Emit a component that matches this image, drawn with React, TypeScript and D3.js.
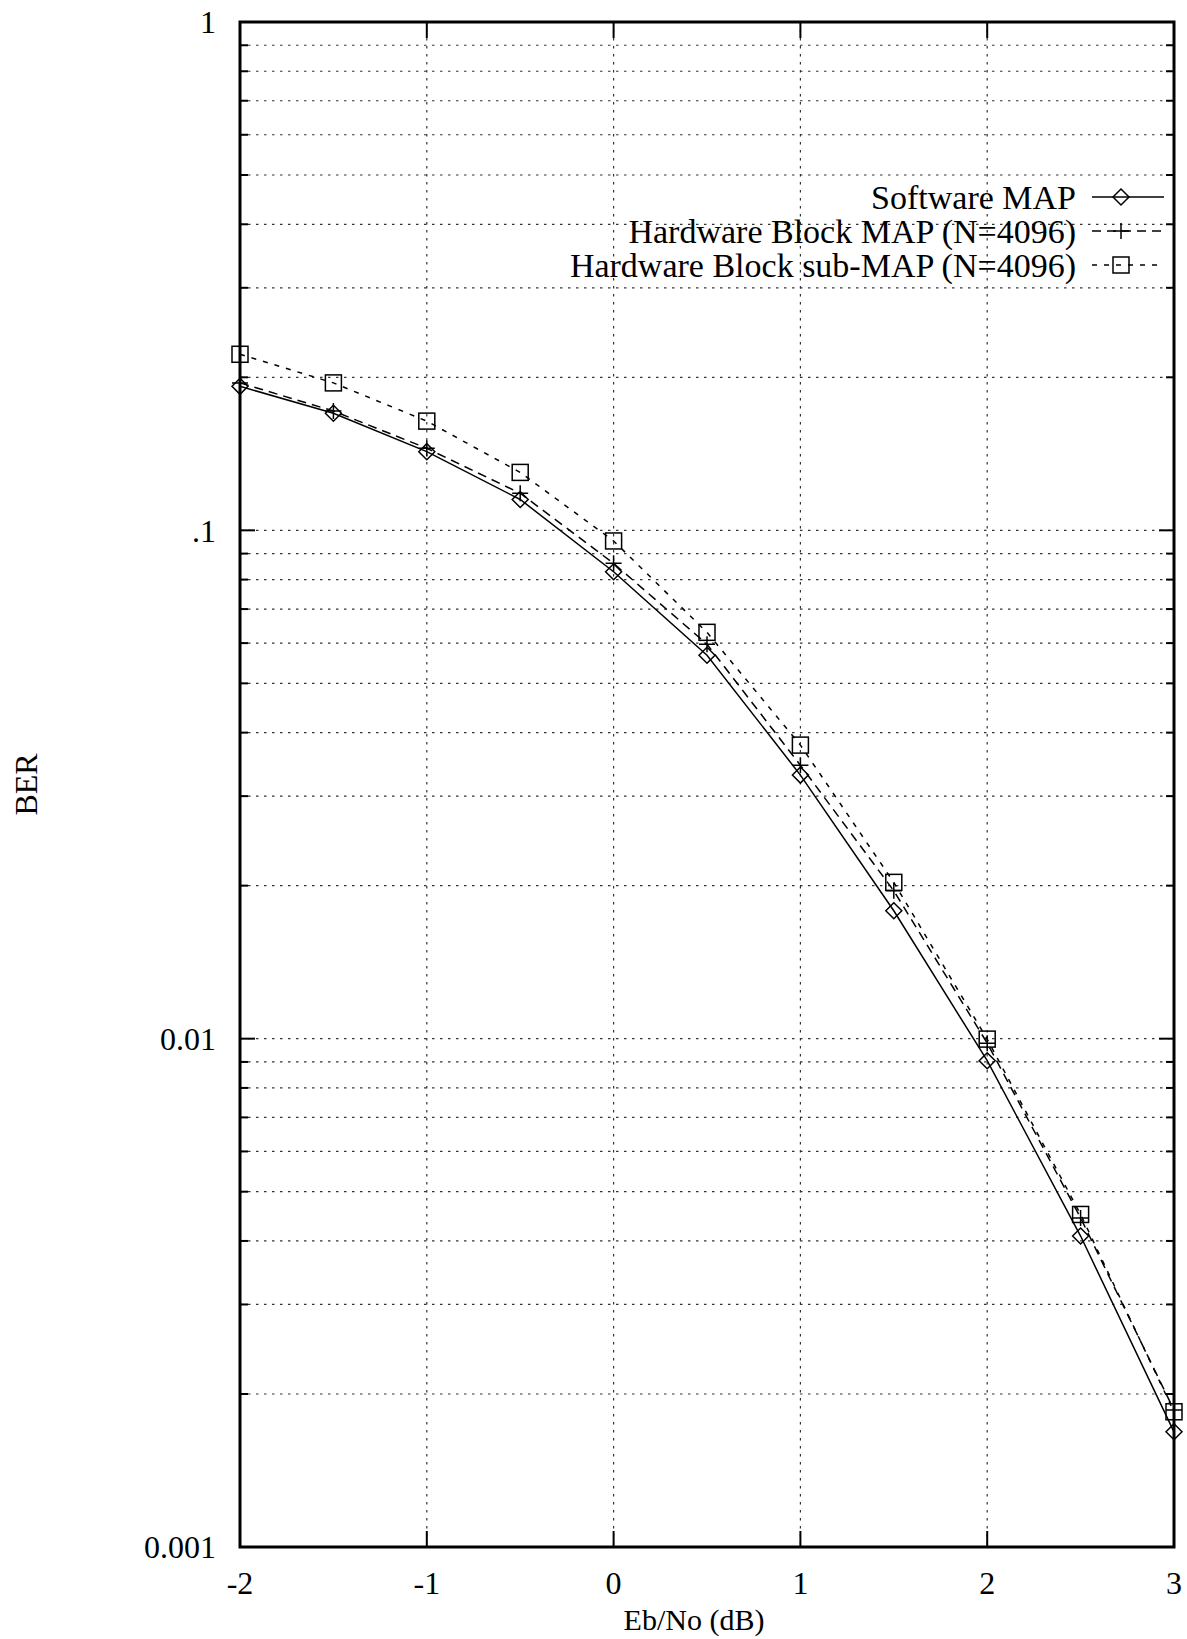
import React, { useEffect, useRef } from "react"
import * as d3 from "d3"

const ebno = [-2, -1.5, -1, -0.5, 0, 0.5, 1, 1.5, 2, 2.5, 3]
const softwareMap = [0.192, 0.17, 0.1428, 0.115, 0.0829, 0.0568, 0.033, 0.01785, 0.00905, 0.00409, 0.001685]
const hwBlockMap = [0.195, 0.1717, 0.145, 0.1183, 0.0861, 0.0597, 0.0345, 0.01954, 0.0098, 0.00444, 0.00186]
const hwBlockSubMap = [0.222, 0.195, 0.164, 0.13, 0.0953, 0.063, 0.0378, 0.0203, 0.00998, 0.00451, 0.001845]

const seriesNames = ["Software MAP", "Hardware Block MAP (N=4096)", "Hardware Block sub-MAP (N=4096)"]
const xTicks = [-2, -1, 0, 1, 2, 3]
const xTickLabels = ["-2", "-1", "0", "1", "2", "3"]
const yTicks = [1, 0.1, 0.01, 0.001]
const yTickLabels = ["1", ".1", "0.01", "0.001"]

const W = 1187
const H = 1639
const FONT = "'Liberation Serif', 'DejaVu Serif', serif"

const App = () => {
	const svgRef = useRef<SVGSVGElement>(null)

	useEffect(() => {
		const margin = { top: 22, right: 13, bottom: 92, left: 240 }
		const svg = d3.select(svgRef.current)
		svg.selectAll("*").remove()

		const x = d3.scaleLinear().domain([-2, 3]).range([margin.left, W - margin.right])
		const y = d3.scaleLog().domain([0.001, 1]).range([H - margin.bottom, margin.top])
		const [x0, x1] = x.range()
		const [yb, yt] = y.range()

		// minor log positions
		const minors: number[] = []
		for (let e = -3; e < 0; e++) {
			for (let m = 1; m < 10; m++) minors.push(m * Math.pow(10, e))
		}
		minors.push(1)

		const grid = svg.append("g")
		grid.selectAll("line.hg")
			.data(minors.filter((v) => v > 0.001 && v < 1))
			.join("line")
			.attr("x1", x0).attr("x2", x1)
			.attr("y1", (d) => y(d)).attr("y2", (d) => y(d))
			.attr("stroke", "#333").attr("stroke-width", 1.2)
			.attr("stroke-dasharray", "2.5,5.5")
		grid.selectAll("line.vg")
			.data(xTicks.filter((v) => v > -2 && v < 3))
			.join("line")
			.attr("x1", (d) => x(d)).attr("x2", (d) => x(d))
			.attr("y1", yt).attr("y2", yb)
			.attr("stroke", "#333").attr("stroke-width", 1.2)
			.attr("stroke-dasharray", "2.5,5.5")

		// ticks
		const ticks = svg.append("g").attr("stroke", "#000").attr("stroke-width", 2)
		minors.forEach((v) => {
			const major = Math.abs(Math.log10(v) - Math.round(Math.log10(v))) < 1e-9
			const len = major ? 15 : 8
			ticks.append("line").attr("x1", x0).attr("x2", x0 + len).attr("y1", y(v)).attr("y2", y(v))
			ticks.append("line").attr("x1", x1).attr("x2", x1 - len).attr("y1", y(v)).attr("y2", y(v))
		})
		xTicks.forEach((v) => {
			ticks.append("line").attr("x1", x(v)).attr("x2", x(v)).attr("y1", yb).attr("y2", yb - 16)
			ticks.append("line").attr("x1", x(v)).attr("x2", x(v)).attr("y1", yt).attr("y2", yt + 16)
		})

		// frame
		svg.append("rect")
			.attr("x", x0).attr("y", yt)
			.attr("width", x1 - x0).attr("height", yb - yt)
			.attr("fill", "none").attr("stroke", "#000").attr("stroke-width", 3)

		// tick labels
		svg.append("g").selectAll("text")
			.data(yTicks)
			.join("text")
			.attr("x", 216).attr("y", (d) => y(d))
			.attr("dy", "0.35em")
			.attr("text-anchor", "end")
			.attr("font-family", FONT).attr("font-size", 32)
			.text((d, i) => yTickLabels[i])
		svg.append("g").selectAll("text")
			.data(xTicks)
			.join("text")
			.attr("x", (d) => x(d)).attr("y", yb + 47)
			.attr("text-anchor", "middle")
			.attr("font-family", FONT).attr("font-size", 32)
			.text((d, i) => xTickLabels[i])

		svg.append("text")
			.attr("x", 694).attr("y", H - 9)
			.attr("text-anchor", "middle")
			.attr("font-family", FONT).attr("font-size", 30)
			.text("Eb/No (dB)")
		svg.append("text")
			.attr("transform", `translate(37, ${(yt + yb) / 2}) rotate(-90)`)
			.attr("text-anchor", "middle")
			.attr("font-family", FONT).attr("font-size", 32)
			.text("BER")

		const series = [softwareMap, hwBlockMap, hwBlockSubMap]
		const dashes = ["none", "9,6", "5,7"]
		const line = d3.line<number>().x((d, i) => x(ebno[i])).y((d) => y(d))

		const drawMarker = (g: any, k: number, cx: number, cy: number) => {
			const s = 8
			if (k === 0) {
				g.append("path")
					.attr("d", `M${cx - s},${cy}L${cx},${cy - s}L${cx + s},${cy}L${cx},${cy + s}Z`)
					.attr("fill", "none").attr("stroke", "#000").attr("stroke-width", 1.5)
			} else if (k === 1) {
				g.append("path")
					.attr("d", `M${cx - s},${cy}H${cx + s}M${cx},${cy - s}V${cy + s}`)
					.attr("fill", "none").attr("stroke", "#000").attr("stroke-width", 1.5)
			} else {
				g.append("rect")
					.attr("x", cx - s).attr("y", cy - s)
					.attr("width", 2 * s).attr("height", 2 * s)
					.attr("fill", "none").attr("stroke", "#000").attr("stroke-width", 1.5)
			}
		}

		series.forEach((vals, k) => {
			const g = svg.append("g")
			g.append("path")
				.datum(vals)
				.attr("d", line)
				.attr("fill", "none").attr("stroke", "#000").attr("stroke-width", 1.5)
				.attr("stroke-dasharray", dashes[k])
			vals.forEach((v, i) => drawMarker(g, k, x(ebno[i]), y(v)))
		})

		// legend
		const legend = svg.append("g")
		seriesNames.forEach((name, k) => {
			const ly = 197 + k * 34
			legend.append("text")
				.attr("x", 1076).attr("y", ly)
				.attr("dy", "0.35em")
				.attr("text-anchor", "end")
				.attr("font-family", FONT).attr("font-size", 34)
				.text(name)
			legend.append("line")
				.attr("x1", 1092).attr("x2", 1164)
				.attr("y1", ly).attr("y2", ly)
				.attr("stroke", "#000").attr("stroke-width", 1.5)
				.attr("stroke-dasharray", dashes[k])
			drawMarker(legend, k, 1121, ly)
		})
	}, [])

	return (
		<svg
			ref={svgRef}
			width={W}
			height={H}
			style={{ position: "absolute", left: 0, top: 0, background: "#fff" }}
		/>
	)
}

export default App
